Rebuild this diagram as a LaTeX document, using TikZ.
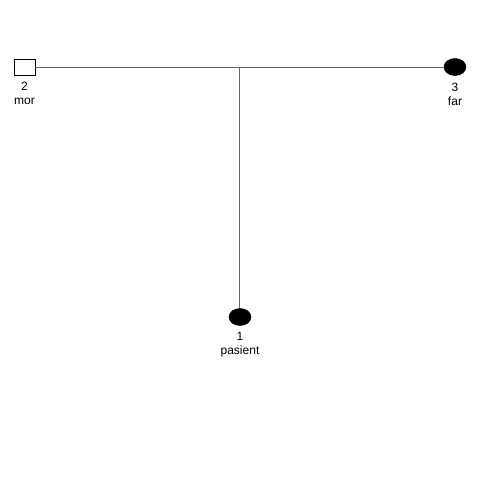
\documentclass[tikz,border=0pt]{standalone}
\usepackage{fontspec}
\setmainfont{Liberation Sans}
\usetikzlibrary{
    positioning,
    shapes.geometric
}

\begin{document}
\begin{tikzpicture}[
    x=0.75pt, y=-0.75pt,
    male/.style={
        rectangle,
        draw,
        fill=white,
        inner sep=0pt,
        minimum width=15.75pt,
        minimum height=12pt
    },
    affected/.style={
        ellipse,
        draw,
        fill=black,
        inner sep=0pt,
        minimum width=16.5pt,
        minimum height=12.75pt
    },
    tag/.style={
        align=center,
        inner sep=0pt,
        font=\fontsize{9}{10.5}\selectfont
    },
    link/.style={draw=black!60, line width=0.75pt}
]
\useasboundingbox (0,0) rectangle (480,480);

\node[male] (mor) at (24.5,67) {};
\node[affected] (far) at (455,67) {};
\node[affected] (pasient) at (240,317) {};
\coordinate (join) at (240,67);

\node[tag, below=5pt of mor] (mortag) {2\\mor};
\node[tag, below=5pt of far] (fartag) {3\\far};
\node[tag, below=5pt of pasient] (pasienttag) {1\\pasient};

\draw[link] (mor) -- (far);
\draw[link] (join) -- (pasient);

\end{tikzpicture}
\end{document}
